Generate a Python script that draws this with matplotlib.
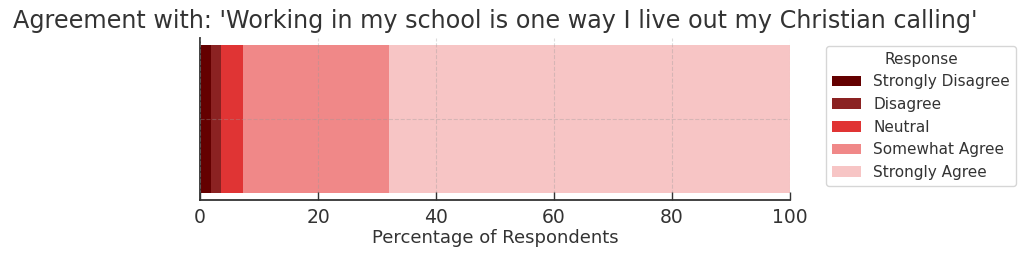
import matplotlib
matplotlib.use("Agg")
import matplotlib.pyplot as plt

categories = ["Strongly Disagree", "Disagree", "Neutral", "Somewhat Agree", "Strongly Agree"]
values = [1.9, 1.7, 3.7, 24.7, 68.0]
colors = ["#640000", "#8b2222", "#e03434", "#f08888", "#f7c5c5"]
title = "Agreement with: 'Working in my school is one way I live out my Christian calling'"

plt.rcParams['font.family'] = ['DejaVu Sans']
text_color = "#333333"

fig = plt.figure(figsize=(10.24, 2.58), dpi=100)
ax = fig.add_axes([200/1024, 1 - 200/258, 590/1024, 162/258])

left = 0
for cat, v, c in zip(categories, values, colors):
    ax.barh([0], [v], left=left, height=0.8, color=c, label=cat)
    left += v

ax.set_xlim(0, 100)
ax.set_xticks([0, 20, 40, 60, 80, 100])
ax.set_yticks([0])
ax.set_yticklabels([""])
ax.tick_params(axis='y', length=0)
ax.tick_params(axis='x', labelsize=13.5, colors='#333333', labelcolor=text_color,
               direction='in', length=6, width=1.0, pad=6)
ax.set_xlabel("Percentage of Respondents", fontsize=13, color=text_color, labelpad=1)
ax.set_title(title, fontsize=17.2, color=text_color, pad=7)
ax.grid(True, linestyle='--', alpha=0.35, color='#999999')
ax.set_axisbelow(False)
for s in ['top', 'right']:
    ax.spines[s].set_visible(False)
for s in ['left', 'bottom']:
    ax.spines[s].set_color('#333333')
    ax.spines[s].set_linewidth(1.3)

leg = ax.legend(title="Response", loc='upper left', bbox_to_anchor=(1.048, 1.0),
                fontsize=11, title_fontsize=11, frameon=True, fancybox=True,
                handlelength=1.9, labelspacing=0.5)
for t in leg.get_texts():
    t.set_color(text_color)
leg.get_title().set_color(text_color)

fig.savefig("out.png", dpi=100)
